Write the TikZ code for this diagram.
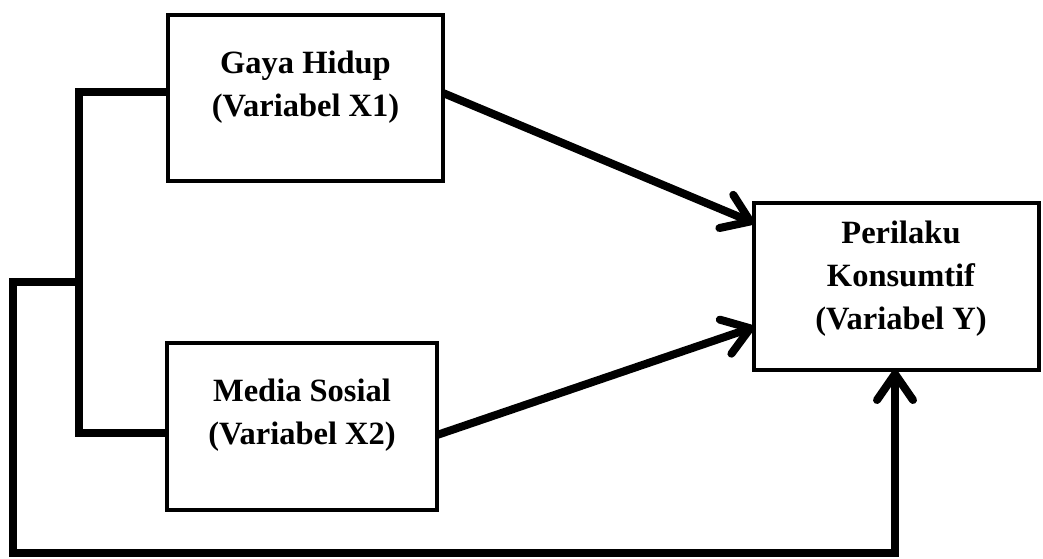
\documentclass[tikz,border=0pt]{standalone}
\usepackage{fontspec}
\setmainfont{Liberation Serif}
\usetikzlibrary{arrows.meta}
\begin{document}
\begin{tikzpicture}[x=1pt,y=-1pt,
  varbox/.style={draw=black,line width=4.5pt,inner sep=0pt,outer sep=0pt,anchor=north west},
  vartext/.style={align=center,inner sep=0pt,font=\fontsize{32.5}{43}\selectfont\bfseries},
  conn/.style={line width=8pt},
  arr/.style={conn,-{Straight Barb[length=26pt,width=36pt,line width=8pt,round]}}]
\useasboundingbox (0,0) rectangle (1043,558);
\node[varbox,minimum width=275pt,minimum height=166pt] (x1) at (168,15) {};
\node[varbox,minimum width=270pt,minimum height=167pt] (x2) at (167,343) {};
\node[varbox,minimum width=285pt,minimum height=167pt] (y) at (754,203) {};
\node[vartext] (t1) at (305.5,87) {Gaya Hidup\\(Variabel X1)};
\node[vartext] (t2) at (302,415) {Media Sosial\\(Variabel X2)};
\node[vartext] (t3) at (901,279) {Perilaku\\Konsumtif\\(Variabel Y)};
\coordinate (fork) at (79,282);
\draw[conn] (x1.west |- 0,92) -- (79,92) -- (79,433) -- (x2.west |- 0,433);
\draw[arr] (x1.east |- 0,93) -- (y.west |- 0,223);
\draw[arr] (x2.east |- 0,435) -- (y.west |- 0,327);
\draw[arr] (fork) -- (13,282) -- (13,553) -- (895,553) -- (y.south -| 895,0);
\end{tikzpicture}
\end{document}
